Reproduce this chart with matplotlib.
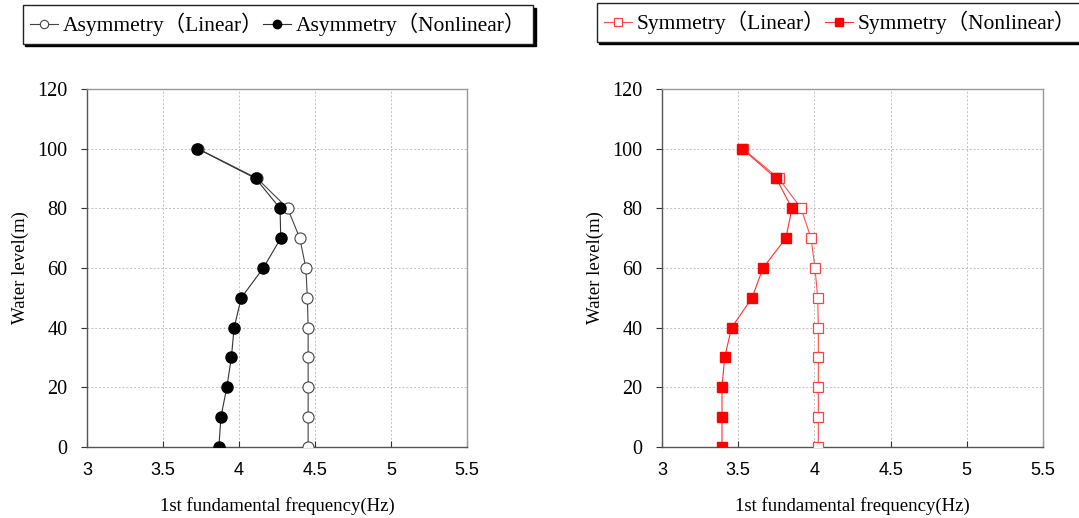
import matplotlib

matplotlib.use("Agg")
import matplotlib.pyplot as plt

# water levels (m)
levels = [100, 90, 80, 70, 60, 50, 40, 30, 20, 10, 0]

# 1st fundamental frequency (Hz)
asym_linear = [3.73, 4.12, 4.32, 4.40, 4.44, 4.45, 4.455, 4.455, 4.455, 4.455, 4.455]
asym_nonlinear = [3.727, 4.11, 4.27, 4.275, 4.16, 4.015, 3.968, 3.95, 3.92, 3.881, 3.868]
sym_linear = [3.53, 3.767, 3.913, 3.978, 4.004, 4.022, 4.026, 4.026, 4.026, 4.026, 4.026]
sym_nonlinear = [3.526, 3.75, 3.853, 3.813, 3.663, 3.591, 3.457, 3.411, 3.394, 3.394, 3.394]

x_ticks = [3, 3.5, 4, 4.5, 5, 5.5]
x_tick_labels = ["3", "3.5", "4", "4.5", "5", "5.5"]
y_ticks = [0, 20, 40, 60, 80, 100, 120]

SERIF = ["Liberation Serif", "Noto Sans CJK JP", "DejaVu Serif"]
SANS = ["Liberation Sans", "DejaVu Sans"]

fig = plt.figure(figsize=(10.79, 5.18), dpi=100)
ax_l = fig.add_axes([0.0806, 0.1371, 0.3522, 0.6911])
ax_r = fig.add_axes([0.6135, 0.1371, 0.3531, 0.6911])


def style_axes(ax):
    ax.set_xlim(3, 5.5)
    ax.set_ylim(0, 120)
    ax.set_xticks(x_ticks)
    ax.set_xticklabels(x_tick_labels, family=SANS, fontsize=13)
    ax.set_yticks(y_ticks)
    ax.set_yticklabels([str(v) for v in y_ticks], family=SERIF, fontsize=14.5)
    ax.tick_params(axis="x", direction="in", length=4, pad=11, color="#333333")
    ax.tick_params(axis="y", direction="out", length=4, pad=10, color="#333333")
    ax.grid(True, color="#c0c0c0", linestyle=(0, (2, 2)), linewidth=0.7)
    ax.set_axisbelow(True)
    for side in ("left", "bottom"):
        ax.spines[side].set_color("#555555")
        ax.spines[side].set_linewidth(1.0)
    for side in ("top", "right"):
        ax.spines[side].set_color("#999999")
        ax.spines[side].set_linewidth(1.0)
    ax.set_xlabel("1st fundamental frequency(Hz)", family=SERIF, fontsize=13.5, labelpad=13)
    ax.set_ylabel("Water level(m)", family=SERIF, fontsize=13.5, labelpad=6)


style_axes(ax_l)
style_axes(ax_r)

# left: asymmetry
ax_l.plot(asym_linear, levels, color="#444444", lw=0.8, marker="o", ms=8,
          mfc="white", mec="#444444", mew=0.8, label="Asymmetry（Linear）", zorder=3)
ax_l.plot(asym_nonlinear, levels, color="#333333", lw=0.8, marker="o", ms=8,
          mfc="black", mec="black", label="Asymmetry（Nonlinear）", zorder=4)

# right: symmetry
ax_r.plot(sym_linear, levels, color="#ff5050", lw=0.8, marker="s", ms=7.5,
          mfc="white", mec="#ff4040", mew=0.9, label="Symmetry（Linear）", zorder=3)
ax_r.plot(sym_nonlinear, levels, color="#ff3030", lw=0.8, marker="s", ms=7.5,
          mfc="red", mec="red", label="Symmetry（Nonlinear）", zorder=4)

legend_kw = dict(
    ncol=2,
    prop={"family": SERIF, "size": 15.5},
    frameon=True,
    fancybox=False,
    edgecolor="#222222",
    framealpha=1,
    shadow={"color": "black", "alpha": 1},
    handlelength=1.3,
    handletextpad=0.2,
    columnspacing=0.0,
    borderpad=0.35,
    borderaxespad=0,
    markerscale=0.75,
    loc="upper left",
)
h, lab = ax_l.get_legend_handles_labels()
leg_l = fig.legend(h, lab, bbox_to_anchor=(0.021, 0.99), **legend_kw)
leg_l.get_frame().set_linewidth(1.0)
h, lab = ax_r.get_legend_handles_labels()
leg_r = fig.legend(h, lab, bbox_to_anchor=(0.553, 0.994), **legend_kw)
leg_r.get_frame().set_linewidth(1.0)

fig.savefig("out.png", dpi=100)
plt.close(fig)
